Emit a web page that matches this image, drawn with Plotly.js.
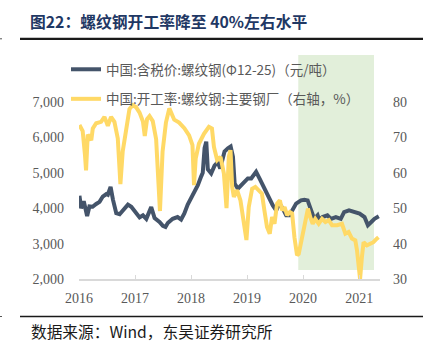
<!DOCTYPE html>
<html>
<head>
<meta charset="utf-8">
<script src="https://cdn.plot.ly/plotly-3.0.1.min.js"></script>
<style>
html,body{margin:0;padding:0;background:#fff;}
#chart{width:426px;height:351px;}
</style>
</head>
<body>
<div id="chart"></div>
<script>
// ---- data ----
const seriesNames = ['中国:含税价:螺纹钢(Φ12-25)（元/吨）', '中国:开工率:螺纹钢:主要钢厂（右轴，%）'];

const priceDates = ['2016-01-04','2016-01-15','2016-02-01','2016-02-23','2016-03-09','2016-03-30','2016-04-22','2016-05-14','2016-06-04','2016-06-27','2016-07-07','2016-07-25','2016-08-09','2016-08-31','2016-09-22','2016-10-24','2016-11-15','2016-12-07','2017-01-08','2017-01-30','2017-02-21','2017-03-15','2017-04-16','2017-05-08','2017-06-09','2017-07-01','2017-07-18','2017-08-02','2017-09-03','2017-10-05','2017-10-28','2017-11-18','2017-12-10','2018-01-01','2018-01-24','2018-02-14','2018-03-08','2018-03-18','2018-03-30','2018-04-10','2018-04-20','2018-05-12','2018-06-03','2018-06-24','2018-07-10','2018-08-07','2018-08-29','2018-09-16','2018-10-01','2018-10-12','2018-11-02','2018-11-24','2018-12-16','2019-01-06','2019-01-28','2019-02-18','2019-03-01','2019-03-23','2019-04-13','2019-05-06','2019-05-27','2019-06-18','2019-07-10','2019-07-31','2019-08-22','2019-09-13','2019-10-05','2019-10-26','2019-11-17','2019-12-19','2020-01-10','2020-01-31','2020-02-22','2020-03-14','2020-04-05','2020-04-16','2020-05-07','2020-06-08','2020-07-01','2020-08-02','2020-09-03','2020-09-25','2020-10-27','2020-11-29','2021-01-04','2021-02-05','2021-02-27','2021-03-21','2021-04-11','2021-05-09'];
const priceValues = [4350,4000,4200,3780,4050,4040,4120,4180,4330,4400,4380,4600,4250,3860,3830,3990,4100,4040,3870,3740,3800,3700,4030,3720,3610,3500,3470,3580,3700,3750,3680,3850,4100,4280,4450,4650,4900,5000,5700,5880,5100,4980,5200,5300,5120,5600,5690,5740,5450,4700,4550,4650,4740,4840,4840,4980,5030,4840,4650,4410,4220,4080,3940,4130,3990,3800,3800,3990,4130,4220,4240,4220,3990,3700,3800,3660,3750,3800,3700,3750,3700,3890,3940,3890,3850,3750,3520,3610,3700,3770];

const rateDates = ['2016-01-04','2016-01-25','2016-02-09','2016-02-16','2016-02-27','2016-03-21','2016-03-31','2016-04-22','2016-05-24','2016-06-15','2016-07-07','2016-07-28','2016-08-19','2016-09-10','2016-09-27','2016-10-12','2016-11-03','2016-11-25','2016-12-16','2017-01-08','2017-01-30','2017-02-21','2017-03-05','2017-03-20','2017-04-05','2017-04-26','2017-05-18','2017-06-04','2017-06-12','2017-06-29','2017-07-21','2017-08-12','2017-08-23','2017-09-13','2017-10-15','2017-11-18','2017-12-19','2018-01-10','2018-01-20','2018-01-31','2018-02-21','2018-03-26','2018-04-27','2018-05-17','2018-05-30','2018-06-20','2018-07-12','2018-08-03','2018-08-20','2018-09-04','2018-09-15','2018-09-26','2018-10-07','2018-10-28','2018-11-19','2018-12-11','2018-12-28','2019-01-12','2019-02-03','2019-02-24','2019-03-18','2019-04-08','2019-04-24','2019-05-11','2019-05-29','2019-06-13','2019-06-29','2019-07-16','2019-08-03','2019-08-18','2019-09-03','2019-09-19','2019-10-07','2019-10-22','2019-11-06','2019-11-23','2019-12-04','2019-12-26','2020-01-16','2020-02-02','2020-02-17','2020-03-04','2020-03-21','2020-04-12','2020-05-04','2020-05-26','2020-06-17','2020-07-08','2020-08-10','2020-09-11','2020-10-03','2020-10-24','2020-11-15','2020-12-07','2020-12-18','2020-12-29','2021-01-07','2021-01-19','2021-01-30','2021-02-21','2021-03-14','2021-04-04','2021-04-26','2021-05-07'];
const rateValues = [73.5,71.8,65,60.7,70.8,69.2,72.5,74,74.4,75.8,73.3,75.8,74.4,69.7,56.8,66,72,78,79.1,78.5,77,74.5,70.4,75.2,76,74.6,69.5,55.5,49.2,66,74.2,78.2,77.2,75,74.2,72.6,70.6,67.8,56.5,64,68.2,71,73,72.5,67.3,63.6,64.5,59.8,50,64.5,66.4,56,53.2,55.1,52.2,45.6,41,50.3,55.5,56,55.1,54.1,49.4,44.7,42.8,47.5,45.6,51.3,52.2,49.4,50.3,48,48.9,48.5,41.8,36.7,37.1,41.8,45.6,49.9,47.5,45.6,47,45.6,47,46.1,46.6,45.2,45.2,45.6,42.8,43.3,41.4,40.9,38.1,32.4,30,36.2,40.4,39.5,40,40.4,41.4,41.8];

const shadeStart = '2019-12-01';
const shadeEnd = '2021-04-08';

const yearTicks = ['2016-01-01','2017-01-01','2018-01-01','2019-01-01','2020-01-01','2021-01-01'];
const yearLabels = ['2016','2017','2018','2019','2020','2021'];
const leftTicks = [2000,3000,4000,5000,6000,7000];
const rightTicks = [30,40,50,60,70,80];

const titleText = '图22：螺纹钢开工率降至 40%左右水平';
const sourceText = '数据来源：Wind，东吴证券研究所';

// ---- chart ----
const W = 426, H = 351;
const mL = 79, mR = 46, mT = 102, mB = 72;
const plotH = H - mT - mB;
const plotW = W - mL - mR;
const py = px => (H - mB - px) / plotH;   // pixel row -> paper y
const pxX = px => (px - mL) / plotW;      // pixel col -> paper x

const tickFont = {family: 'Liberation Serif, Times New Roman, serif', size: 14, color: '#595959'};
const cjk = 'Noto Sans CJK SC, sans-serif';

const traces = [
  {
    x: rateDates, y: rateValues, yaxis: 'y2', type: 'scatter', mode: 'lines',
    name: seriesNames[1], legendgroup: 'b', legendrank: 2,
    line: {color: '#FFD966', width: 4}
  },
  {
    x: priceDates, y: priceValues, type: 'scatter', mode: 'lines',
    name: seriesNames[0], legendgroup: 'a', legendrank: 1,
    line: {color: '#44546A', width: 4}
  }
];

const layout = {
  width: W, height: H,
  margin: {l: mL, r: mR, t: mT, b: mB, pad: 0, autoexpand: false},
  paper_bgcolor: '#ffffff', plot_bgcolor: 'rgba(0,0,0,0)',
  title: {
    text: titleText, xref: 'container', yref: 'container',
    x: 30 / W, xanchor: 'left', y: 1 - 22 / H, yanchor: 'middle',
    font: {family: cjk, size: 15.8, color: '#1F3864', weight: 'bold'}
  },
  showlegend: true,
  legend: {
    xref: 'container', yref: 'container',
    x: 66 / W, xanchor: 'left', y: 1 - 54 / H, yanchor: 'top',
    bgcolor: 'rgba(0,0,0,0)', borderwidth: 0,
    font: {family: cjk, size: 13.5, color: '#595959'},
    traceorder: 'grouped', tracegroupgap: 9
  },
  xaxis: {
    type: 'date', range: ['2016-01-01', '2021-05-17'],
    tickvals: yearTicks, ticktext: yearLabels,
    showgrid: false, zeroline: false,
    showline: true, linecolor: '#D9D9D9', linewidth: 1.5,
    ticks: 'inside', ticklen: 4, tickcolor: '#D9D9D9', tickwidth: 1,
    tickfont: tickFont, ticklabelstandoff: 6
  },
  yaxis: {
    range: [2000, 7000], tickvals: leftTicks, tickformat: ',',
    showgrid: false, zeroline: false, showline: false, ticks: '',
    tickfont: tickFont, ticklabelstandoff: 14
  },
  yaxis2: {
    overlaying: 'y', side: 'right',
    range: [30, 80], tickvals: rightTicks,
    showgrid: false, zeroline: false, showline: false, ticks: '',
    tickfont: tickFont, ticklabelstandoff: 12
  },
  shapes: [
    {type: 'rect', xref: 'x', yref: 'paper', x0: shadeStart, x1: shadeEnd,
     y0: py(270), y1: py(55), fillcolor: '#E2EFDA', line: {width: 0}, layer: 'below'},
    {type: 'line', xref: 'paper', yref: 'paper', x0: pxX(20), x1: pxX(423),
     y0: py(38.8), y1: py(38.8), line: {color: '#1a1a1a', width: 2.3}},
    {type: 'line', xref: 'paper', yref: 'paper', x0: pxX(20), x1: pxX(423),
     y0: py(316.5), y1: py(316.5), line: {color: '#1a1a1a', width: 1.6}},
    {type: 'line', xref: 'paper', yref: 'paper', x0: pxX(0), x1: pxX(2),
     y0: py(38.8), y1: py(38.8), line: {color: '#555', width: 1}},
    {type: 'line', xref: 'paper', yref: 'paper', x0: pxX(0), x1: pxX(2),
     y0: py(316.5), y1: py(316.5), line: {color: '#555', width: 1}}
  ],
  annotations: [
    {text: sourceText, xref: 'paper', yref: 'paper', x: pxX(29), y: py(331.5),
     xanchor: 'left', yanchor: 'middle', showarrow: false,
     font: {family: cjk, size: 15.7, color: '#1a1a1a'}}
  ]
};

Plotly.newPlot('chart', traces, layout, {staticPlot: true, displayModeBar: false});
</script>
</body>
</html>
